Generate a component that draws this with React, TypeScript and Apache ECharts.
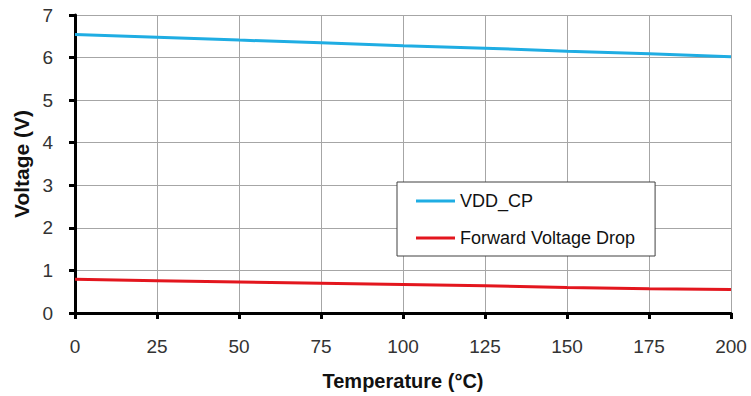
import React, { useEffect, useRef } from "react";
import * as echarts from "echarts";

const temperatures = [0, 25, 50, 75, 100, 125, 150, 175, 200];
const vddCp = [6.54, 6.48, 6.41, 6.35, 6.28, 6.22, 6.15, 6.09, 6.02];
const forwardDrop = [0.79, 0.76, 0.73, 0.70, 0.67, 0.64, 0.60, 0.57, 0.55];
const seriesNames = ["VDD_CP", "Forward Voltage Drop"];
const FONT = "'Liberation Sans', Arial, sans-serif";

export default function App() {
  const ref = useRef<HTMLDivElement>(null);
  useEffect(() => {
    if (!ref.current) return;
    const chart = echarts.init(ref.current, undefined, { renderer: "svg" });
    chart.setOption({
      animation: false,
      backgroundColor: "#ffffff",
      grid: { left: 75, right: 20, top: 15, bottom: 78 },
      legend: {
        data: seriesNames,
        orient: "vertical",
        left: 397,
        top: 182,
        padding: [10, 20, 9, 19],
        itemGap: 19,
        itemWidth: 39,
        itemHeight: 3,
        icon: "rect",
        backgroundColor: "#ffffff",
        borderColor: "#404040",
        borderWidth: 1,
        textStyle: { fontFamily: FONT, fontSize: 18, color: "#111" },
      },
      xAxis: {
        type: "value",
        min: 0,
        max: 200,
        interval: 25,
        name: "Temperature (°C)",
        nameLocation: "middle",
        nameGap: 58,
        nameTextStyle: { fontFamily: FONT, fontSize: 20, fontWeight: "bold", color: "#111" },
        axisLine: { show: true, onZero: false, lineStyle: { color: "#000", width: 3 } },
        axisTick: { show: true, length: 6, lineStyle: { color: "#000", width: 3 } },
        axisLabel: { margin: 24, fontFamily: FONT, fontSize: 19, color: "#333" },
        splitLine: { show: true, lineStyle: { color: "#a6a6a6", width: 1 } },
      },
      yAxis: {
        type: "value",
        min: 0,
        max: 7,
        interval: 1,
        name: "Voltage (V)",
        nameLocation: "middle",
        nameGap: 42,
        nameRotate: 90,
        nameTextStyle: { fontFamily: FONT, fontSize: 21, fontWeight: "bold", color: "#111" },
        axisLine: { show: true, lineStyle: { color: "#000", width: 3 } },
        axisTick: { show: true, length: 6, lineStyle: { color: "#000", width: 3 } },
        axisLabel: { margin: 22, fontFamily: FONT, fontSize: 19, color: "#333" },
        splitLine: { show: true, lineStyle: { color: "#a6a6a6", width: 1 } },
      },
      series: [
        {
          name: seriesNames[0],
          type: "line",
          data: temperatures.map((t, i) => [t, vddCp[i]]),
          showSymbol: false,
          symbol: "none",
          lineStyle: { color: "#1fade3", width: 3 },
          itemStyle: { color: "#1fade3" },
        },
        {
          name: seriesNames[1],
          type: "line",
          data: temperatures.map((t, i) => [t, forwardDrop[i]]),
          showSymbol: false,
          symbol: "none",
          lineStyle: { color: "#e3161e", width: 3 },
          itemStyle: { color: "#e3161e" },
        },
      ],
    });
    return () => chart.dispose();
  }, []);
  return (
    <div
      ref={ref}
      style={{ position: "fixed", left: 0, top: 0, width: 751, height: 396, background: "#fff" }}
    />
  );
}
